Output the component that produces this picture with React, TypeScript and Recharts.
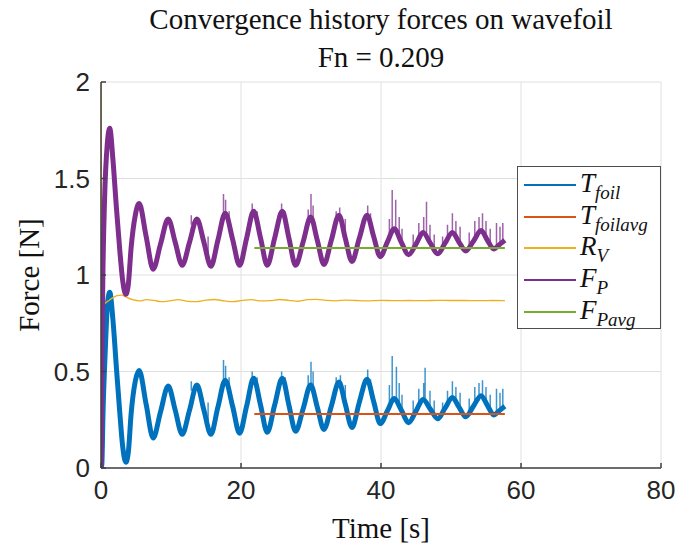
import React from 'react';
import { LineChart, Line, XAxis, YAxis, CartesianGrid } from 'recharts';

type Pt = [number, number];
type Spike = [number, number, number];

const xTicks = [0, 20, 40, 60, 80];
const yTicks = [0, 0.5, 1, 1.5, 2];

// F_P, total propulsive force [N] vs time [s]
const propulsiveForce: Pt[] = [
  [0, 0], [0.12, 0.5], [0.25, 0.95], [0.5, 1.38], [0.9, 1.68], [1.25, 1.76], [1.7, 1.6],
  [2.2, 1.35], [2.7, 1.12], [3.1, 0.97], [3.55, 0.9], [3.9, 0.95], [4.3, 1.14], [4.9, 1.31],
  [5.45, 1.37], [6.45, 1.2], [7.45, 1.03], [8.5, 1.16], [9.6, 1.29], [10.6, 1.17], [11.6, 1.05],
  [12.65, 1.17], [13.7, 1.29], [14.7, 1.17], [15.7, 1.045], [16.7, 1.18], [17.75, 1.32],
  [18.8, 1.185], [19.8, 1.05], [20.8, 1.19], [21.8, 1.33], [22.8, 1.19], [23.75, 1.05],
  [24.8, 1.19], [25.9, 1.33], [26.85, 1.19], [27.8, 1.05], [28.9, 1.175], [29.95, 1.3],
  [30.9, 1.18], [31.85, 1.055], [32.9, 1.18], [34.0, 1.31], [34.9, 1.19], [35.85, 1.07],
  [36.9, 1.19], [38.0, 1.31], [38.95, 1.2], [39.9, 1.095], [40.9, 1.17], [41.9, 1.24],
  [42.9, 1.17], [43.95, 1.105], [45.0, 1.16], [46.0, 1.22], [47.05, 1.165], [48.1, 1.11],
  [49.15, 1.165], [50.2, 1.22], [51.15, 1.17], [52.1, 1.125], [53.2, 1.175], [54.3, 1.23],
  [55.2, 1.18], [56.1, 1.135], [57.0, 1.16], [57.7, 1.18],
];

// T_foil, foil thrust [N]
const foilThrust: Pt[] = [
  [0, 0], [0.12, 0.02], [0.3, 0.3], [0.6, 0.6], [0.95, 0.86], [1.25, 0.91], [1.7, 0.77],
  [2.2, 0.52], [2.7, 0.28], [3.1, 0.11], [3.55, 0.03], [3.9, 0.08], [4.3, 0.28], [4.9, 0.45],
  [5.45, 0.505], [6.45, 0.33], [7.45, 0.155], [8.5, 0.29], [9.6, 0.425], [10.6, 0.3],
  [11.6, 0.175], [12.65, 0.3], [13.7, 0.43], [14.7, 0.3], [15.7, 0.175], [16.7, 0.315],
  [17.75, 0.455], [18.8, 0.32], [19.8, 0.18], [20.8, 0.32], [21.8, 0.465], [22.8, 0.325],
  [23.75, 0.185], [24.8, 0.325], [25.9, 0.465], [26.85, 0.325], [27.8, 0.19], [28.9, 0.31],
  [29.95, 0.43], [30.9, 0.315], [31.85, 0.2], [32.9, 0.32], [34.0, 0.445], [34.9, 0.33],
  [35.85, 0.21], [36.9, 0.34], [38.0, 0.46], [38.95, 0.345], [39.9, 0.23], [40.9, 0.295],
  [41.9, 0.36], [42.9, 0.3], [43.95, 0.235], [45.0, 0.295], [46.0, 0.355], [47.05, 0.305],
  [48.1, 0.255], [49.15, 0.31], [50.2, 0.365], [51.15, 0.315], [52.1, 0.265], [53.2, 0.32],
  [54.3, 0.375], [55.2, 0.325], [56.1, 0.275], [57.0, 0.3], [57.7, 0.32],
];

// R_V, viscous resistance [N]
const viscousResistance: Pt[] = [
  [0, 2], [0.08, 1.2], [0.15, 0.86], [0.4, 0.85], [0.9, 0.862], [1.6, 0.88], [2.3, 0.893],
  [2.9, 0.896], [3.6, 0.885], [4.5, 0.872], [5.5, 0.866], [6.5, 0.872], [7.6, 0.868],
  [8.6, 0.862], [9.8, 0.866], [11, 0.872], [12.2, 0.865], [13.6, 0.862], [15, 0.87],
  [16.2, 0.873], [17.6, 0.866], [18.8, 0.862], [20.2, 0.868], [21.5, 0.872], [22.8, 0.866],
  [24.2, 0.867], [25.5, 0.873], [26.8, 0.869], [28.2, 0.864], [29.5, 0.872], [30.8, 0.874],
  [32.2, 0.868], [33.6, 0.866], [35, 0.87], [36.4, 0.868], [38, 0.866], [40, 0.869],
  [42, 0.867], [44, 0.868], [46, 0.867], [48, 0.869], [50, 0.868], [52, 0.868], [54, 0.867],
  [56, 0.868], [57.7, 0.867],
];

const foilThrustAvg: Pt[] = [[21.9, 0.28], [57.7, 0.28]];
const propulsiveAvg: Pt[] = [[21.9, 1.14], [57.7, 1.14]];

// short noise spikes on top of the oscillation: [t, from, to]
const propulsiveSpikes: Spike[] = [
  [12.9, 1.26, 1.31], [15.3, 1.08, 1.2], [17.5, 1.28, 1.42], [17.8, 1.3, 1.39], [18.3, 1.25, 1.33],
  [21.6, 1.3, 1.37], [22.3, 1.27, 1.33], [25.8, 1.3, 1.37], [26.3, 1.28, 1.33], [29.6, 1.27, 1.34],
  [30.0, 1.28, 1.42], [30.3, 1.27, 1.36], [33.6, 1.27, 1.33], [34.1, 1.29, 1.35], [34.9, 1.2, 1.29],
  [38.1, 1.29, 1.36], [38.5, 1.27, 1.32], [41.2, 1.2, 1.29], [41.6, 1.22, 1.44], [42.1, 1.22, 1.39],
  [42.6, 1.2, 1.3], [43.0, 1.17, 1.24], [44.6, 1.13, 1.21], [45.4, 1.18, 1.27], [46.1, 1.21, 1.3],
  [46.5, 1.21, 1.38], [47.0, 1.18, 1.26], [47.6, 1.14, 1.21], [48.8, 1.14, 1.2], [49.5, 1.18, 1.26],
  [50.2, 1.21, 1.32], [50.7, 1.2, 1.28], [51.3, 1.16, 1.25], [52.6, 1.14, 1.22], [53.4, 1.19, 1.28],
  [54.0, 1.21, 1.3], [54.5, 1.21, 1.32], [55.0, 1.19, 1.28], [55.6, 1.16, 1.24], [56.5, 1.15, 1.27],
  [57.0, 1.16, 1.25], [57.4, 1.17, 1.27],
];

const thrustSpikes: Spike[] = [
  [12.9, 0.4, 0.45], [15.3, 0.22, 0.34], [17.5, 0.42, 0.56], [17.8, 0.44, 0.53], [18.3, 0.39, 0.47],
  [21.6, 0.44, 0.5], [22.3, 0.41, 0.47], [25.8, 0.44, 0.5], [26.3, 0.42, 0.47], [29.6, 0.41, 0.48],
  [30.0, 0.42, 0.55], [30.3, 0.41, 0.5], [33.6, 0.41, 0.47], [34.2, 0.43, 0.48], [34.9, 0.34, 0.43],
  [38.1, 0.43, 0.51], [38.5, 0.41, 0.46], [41.2, 0.34, 0.43], [41.6, 0.36, 0.58], [42.2, 0.36, 0.525],
  [42.6, 0.34, 0.44], [43.0, 0.31, 0.38], [44.6, 0.27, 0.35], [45.4, 0.32, 0.41], [46.1, 0.35, 0.44],
  [46.3, 0.35, 0.52], [47.0, 0.32, 0.4], [47.6, 0.28, 0.35], [48.8, 0.28, 0.34], [49.5, 0.32, 0.4],
  [50.2, 0.35, 0.45], [50.7, 0.34, 0.42], [51.3, 0.3, 0.39], [52.6, 0.28, 0.36], [53.4, 0.33, 0.42],
  [54.0, 0.35, 0.44], [54.5, 0.35, 0.455], [55.0, 0.33, 0.42], [55.6, 0.3, 0.38], [56.5, 0.29, 0.41],
  [57.0, 0.3, 0.39], [57.4, 0.31, 0.41],
];

const COLORS = {
  blue: '#0072BD',
  orange: '#D95319',
  yellow: '#EDB120',
  purple: '#7E2F8E',
  green: '#77AC30',
};

const legendItems = [
  { main: 'T', sub: 'foil', color: COLORS.blue },
  { main: 'T', sub: 'foilavg', color: COLORS.orange },
  { main: 'R', sub: 'V', color: COLORS.yellow },
  { main: 'F', sub: 'P', color: COLORS.purple },
  { main: 'F', sub: 'Pavg', color: COLORS.green },
];

const toRows = (pts: Pt[]) => pts.map(([t, v]) => ({ t, v }));
const spikeRows = (s: Spike[]) =>
  s.flatMap(([t, a, b]) => [{ t, v: a }, { t, v: b }, { t, v: null as number | null }]);

const SERIF = '"Liberation Serif", "DejaVu Serif", serif';
const SANS = '"Liberation Sans", Arial, sans-serif';
const AXIS = '#404040';
const tickStyle = { fill: '#262626', fontSize: 26, fontFamily: SANS };

export default function App() {
  const common = { dot: false, activeDot: false, isAnimationActive: false } as const;
  return (
    <div style={{ position: 'absolute', left: 0, top: 0, width: 679, height: 551, background: '#fff' }}>
      <div style={{ position: 'absolute', left: 101, width: 560, top: 0, textAlign: 'center', fontFamily: SERIF, fontSize: 29, lineHeight: '38px', color: '#111' }}>
        <div>Convergence history forces on wavefoil</div>
        <div>Fn = 0.209</div>
      </div>

      <LineChart width={679} height={551} margin={{ top: 82, right: 18, bottom: 53, left: 0 }}>
        <CartesianGrid stroke="#e0e0e0" strokeWidth={1} />
        <XAxis dataKey="t" type="number" domain={[0, 80]} ticks={xTicks} height={30}
          tickSize={-5} tickMargin={18} stroke={AXIS} strokeWidth={1.5} tick={tickStyle} allowDataOverflow />
        <XAxis xAxisId="top" orientation="top" dataKey="t" type="number" domain={[0, 80]} ticks={xTicks}
          height={0} tickSize={-5} tickFormatter={() => ''} stroke={AXIS} strokeWidth={1.5} />
        <YAxis type="number" domain={[0, 2]} ticks={yTicks} width={101}
          tickSize={-5} tickMargin={16} stroke={AXIS} strokeWidth={1.5} tick={tickStyle} allowDataOverflow />
        <YAxis yAxisId="right" orientation="right" type="number" domain={[0, 2]} ticks={yTicks}
          width={0} tickSize={-5} tickFormatter={() => ''} stroke={AXIS} strokeWidth={1.5} />

        <Line {...common} data={toRows(foilThrust)} dataKey="v" type="monotone" stroke={COLORS.blue} strokeWidth={5} />
        <Line {...common} data={spikeRows(thrustSpikes)} dataKey="v" type="linear" stroke={COLORS.blue} strokeWidth={1.5} strokeOpacity={0.75} />
        <Line {...common} data={toRows(foilThrustAvg)} dataKey="v" type="linear" stroke={COLORS.orange} strokeWidth={2} />
        <Line {...common} data={toRows(viscousResistance)} dataKey="v" type="monotone" stroke={COLORS.yellow} strokeWidth={1.3} />
        <Line {...common} data={toRows(propulsiveForce)} dataKey="v" type="monotone" stroke={COLORS.purple} strokeWidth={5} />
        <Line {...common} data={spikeRows(propulsiveSpikes)} dataKey="v" type="linear" stroke={COLORS.purple} strokeWidth={1.5} strokeOpacity={0.75} />
        <Line {...common} data={toRows(propulsiveAvg)} dataKey="v" type="linear" stroke={COLORS.green} strokeWidth={2} />
      </LineChart>

      <div style={{ position: 'absolute', left: 517, top: 166, width: 144, height: 163, boxSizing: 'border-box', border: '1px solid #4d4d4d', background: '#fff' }}>
        {legendItems.map((it, i) => (
          <div key={i} style={{ position: 'absolute', left: 0, top: 2 + i * 31.7, height: 32, width: 142 }}>
            <div style={{ position: 'absolute', left: 6, top: 15, width: 52, height: 2, background: it.color }} />
            <div style={{ position: 'absolute', left: 62, top: -2, fontFamily: SERIF, fontStyle: 'italic', fontSize: 27, lineHeight: '32px', color: '#111', whiteSpace: 'nowrap' }}>
              {it.main}
              <span style={{ fontSize: 19, position: 'relative', top: 7 }}>{it.sub}</span>
            </div>
          </div>
        ))}
      </div>

      <div style={{ position: 'absolute', left: 0, top: 275, width: 0, height: 0 }}>
        <div style={{ position: 'absolute', left: 29, top: 0, transform: 'translate(-50%, -50%) rotate(-90deg)', fontFamily: SERIF, fontSize: 29, whiteSpace: 'nowrap', color: '#111' }}>
          Force [N]
        </div>
      </div>
      <div style={{ position: 'absolute', left: 101, width: 560, top: 510, textAlign: 'center', fontFamily: SERIF, fontSize: 29, lineHeight: '36px', color: '#111' }}>
        Time [s]
      </div>
    </div>
  );
}
